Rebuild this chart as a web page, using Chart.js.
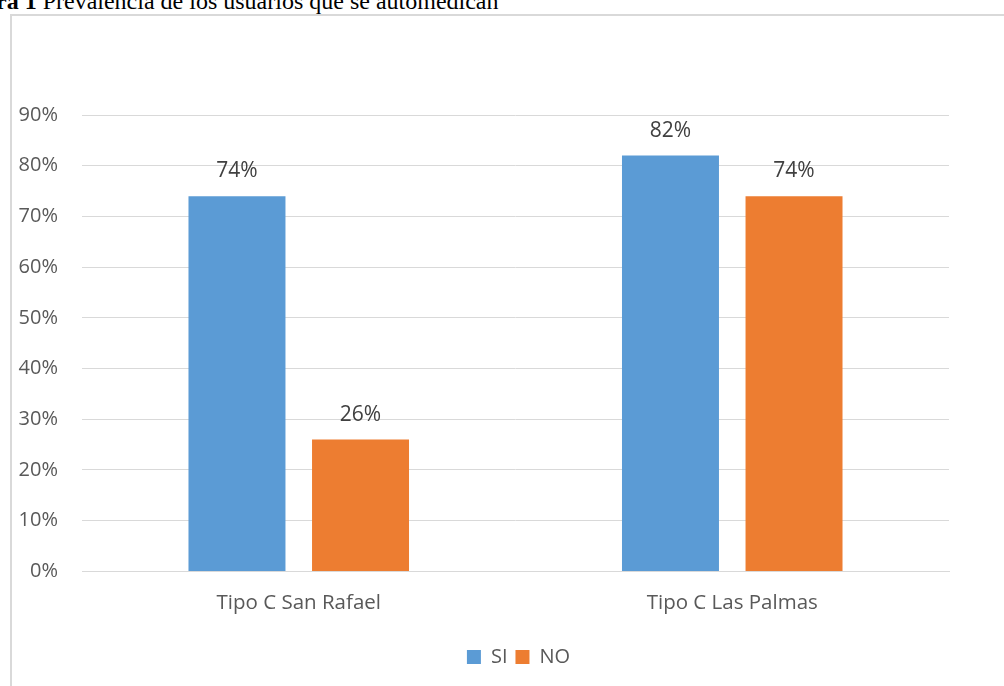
<!DOCTYPE html>
<html>
<head>
<meta charset="utf-8">
<script src="https://cdn.jsdelivr.net/npm/chart.js@4"></script>
<style>
  body { margin: 0; background: #fff; width: 1004px; height: 686px; overflow: hidden; position: relative; }
  #caption { position: absolute; left: -4px; top: -11px; line-height: 24px; font-family: "Liberation Serif", "Times New Roman", serif; font-size: 24px; color: #000; white-space: nowrap; }
  #frame { position: absolute; left: 10px; top: 14px; width: 994px; height: 672px; border-left: 2px solid #d9d9d9; border-top: 2px solid #d9d9d9; }
  #wrap { position: absolute; left: 0; top: 0; width: 992px; height: 670px; }
</style>
</head>
<body>
<div id="caption"><b>ra 1</b> Prevalencia de los usuarios que se automedican</div>
<div id="frame">
  <div id="wrap"><canvas id="chart"></canvas></div>
</div>
<script>
  // chart data
  const categories = ['Tipo C San Rafael', 'Tipo C Las Palmas'];
  const siValues = [74, 82];
  const noValues = [26, 74];
  const yTicks = [0, 10, 20, 30, 40, 50, 60, 70, 80, 90];

  const FONT = "'Open Sans', sans-serif";

  // draw value labels above each bar
  const valueLabels = {
    id: 'valueLabels',
    afterDatasetsDraw(chart) {
      const ctx = chart.ctx;
      ctx.save();
      ctx.font = '21px ' + FONT;
      ctx.fillStyle = '#404040';
      ctx.textAlign = 'center';
      ctx.textBaseline = 'middle';
      chart.data.datasets.forEach((ds, i) => {
        chart.getDatasetMeta(i).data.forEach((bar, j) => {
          ctx.fillText(ds.data[j] + '%', bar.x, bar.y - 25);
        });
      });
      ctx.restore();
    }
  };

  // legend sits centred under the plot, not under the whole canvas
  const legendShift = {
    id: 'legendShift',
    afterLayout(chart) {
      chart.legend.left += 38;
      chart.legend.right += 38;
    }
  };

  const ctx = document.getElementById('chart').getContext('2d');
  new Chart(ctx, {
    type: 'bar',
    data: {
      labels: categories,
      datasets: [
        { label: 'SI', data: siValues, backgroundColor: '#5B9BD5', categoryPercentage: 0.57, barPercentage: 0.785 },
        { label: 'NO', data: noValues, backgroundColor: '#ED7D31', categoryPercentage: 0.57, barPercentage: 0.785 }
      ]
    },
    options: {
      responsive: true,
      maintainAspectRatio: false,
      animation: false,
      layout: { padding: { top: 99, right: 55, left: 0, bottom: 9 } },
      plugins: {
        legend: {
          position: 'bottom',
          labels: { font: { family: FONT, size: 20 }, color: '#595959', boxWidth: 14, boxHeight: 14, padding: 8 }
        },
        tooltip: { enabled: false }
      },
      scales: {
        x: {
          grid: { display: false },
          border: { color: '#d9d9d9', width: 1 },
          afterFit(scale) { scale.height += 13; },
          ticks: { font: { family: FONT, size: 20.5 }, color: '#595959', padding: 11 }
        },
        y: {
          min: 0,
          max: 90,
          afterFit(scale) { scale.width = 70; },
          afterBuildTicks(scale) { scale.ticks = yTicks.map(v => ({ value: v })); },
          grid: { color: '#d9d9d9', drawTicks: false },
          border: { display: false },
          ticks: { font: { family: FONT, size: 20 }, color: '#595959', padding: 24, callback: v => v + '%' }
        }
      }
    },
    plugins: [valueLabels, legendShift]
  });
</script>
</body>
</html>
